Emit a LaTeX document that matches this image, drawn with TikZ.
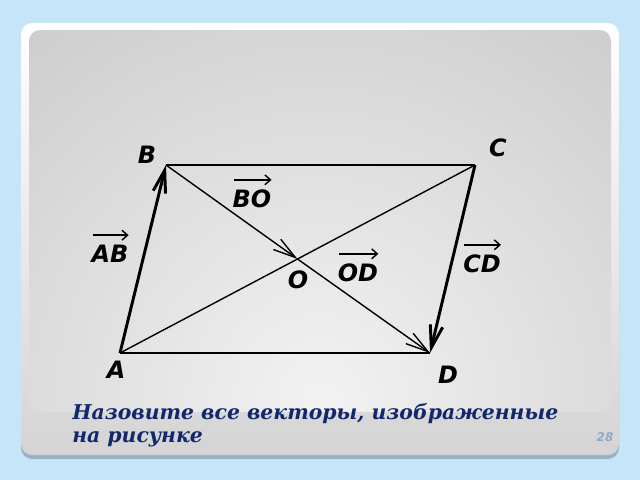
\documentclass[tikz,border=0pt]{standalone}
\usepackage{fontspec}
\usepackage{tikz}
\usepackage{xcolor}
\usetikzlibrary{arrows.meta}

\newfontfamily\lblfont{DejaVu Sans}
\newfontfamily\capfont{DejaVu Serif}

\definecolor{bgblue}{HTML}{C6E5F9}
\definecolor{shadowblue}{HTML}{9AB2C8}
\definecolor{framegray}{HTML}{D4D4D4}
\definecolor{capblue}{HTML}{13286C}
\definecolor{numblue}{HTML}{8FA9C6}

\tikzset{
  side/.style={line width=2.1pt},
  diag/.style={line width=1pt},
  vtip/.style={-{Straight Barb[length=16pt,width=9pt]}},
  lbl/.style={font=\lblfont\bfseries\itshape\fontsize{17}{20}\selectfont, inner sep=0pt},
  vecarrow/.style={line width=1pt, -{Straight Barb[length=4pt,width=7pt]}}
}

\begin{document}
\begin{tikzpicture}[x=0.025cm,y=-0.025cm]
    \useasboundingbox (0,0) rectangle (640,480);

    % Slide
    \fill[bgblue] (0,0) rectangle (640,480);
    \fill[shadowblue, rounded corners=8] (21,27) rectangle (619,459);
    \shade[top color=white, bottom color=framegray, rounded corners=8] (21,23) rectangle (619,455);
    \begin{scope}
        \clip[rounded corners=8] (29,30) rectangle (611,412);
        \shade[inner color=black!5, outer color=black!32] (320,400) circle [radius=22cm];
    \end{scope}

    % Vertices
    \coordinate (A) at (120,353);
    \coordinate (B) at (166,165);
    \coordinate (C) at (475,165);
    \coordinate (D) at (430,353);
    \coordinate (O) at (297.5,259);

    % Sides
    \draw[side, vtip] (A) -- (B);
    \draw[side] (B) -- (C);
    \draw[side, vtip] (C) -- (D);
    \draw[side] (A) -- (D);

    % Diagonals
    \draw[diag] (A) -- (C);
    \draw[diag, vtip] (B) -- (O);
    \draw[diag, vtip] (O) -- (D);

    % Points
    \node[lbl] (lA) at (116,370) {A};
    \node[lbl] (lB) at (147,155) {B};
    \node[lbl] (lC) at (498,148) {C};
    \node[lbl] (lD) at (448,375) {D};
    \node[lbl] (lO) at (298,280) {O};

    % Vectors
    \node[lbl] (ab) at (110,254) {AB};
    \node[lbl] (bo) at (252,199) {BO};
    \node[lbl] (od) at (358,273) {OD};
    \node[lbl] (cd) at (482,264) {CD};
    \foreach \v in {ab,bo,od,cd}
        \draw[vecarrow, shorten <=1pt] ([yshift=7pt]\v.north west) -- ([yshift=7pt]\v.north east);

    % Caption
    \node[font=\capfont\bfseries\itshape\fontsize{14.5}{16.5}\selectfont, text=capblue,
          anchor=north west, align=left, inner sep=0pt] (question) at (72,403)
        {Назовите все векторы, изображенные\\на рисунке};
    \node[font=\lblfont\bfseries\itshape\fontsize{8.5}{10}\selectfont, text=numblue, inner sep=0pt] (page) at (605,437) {28};
\end{tikzpicture}
\end{document}
